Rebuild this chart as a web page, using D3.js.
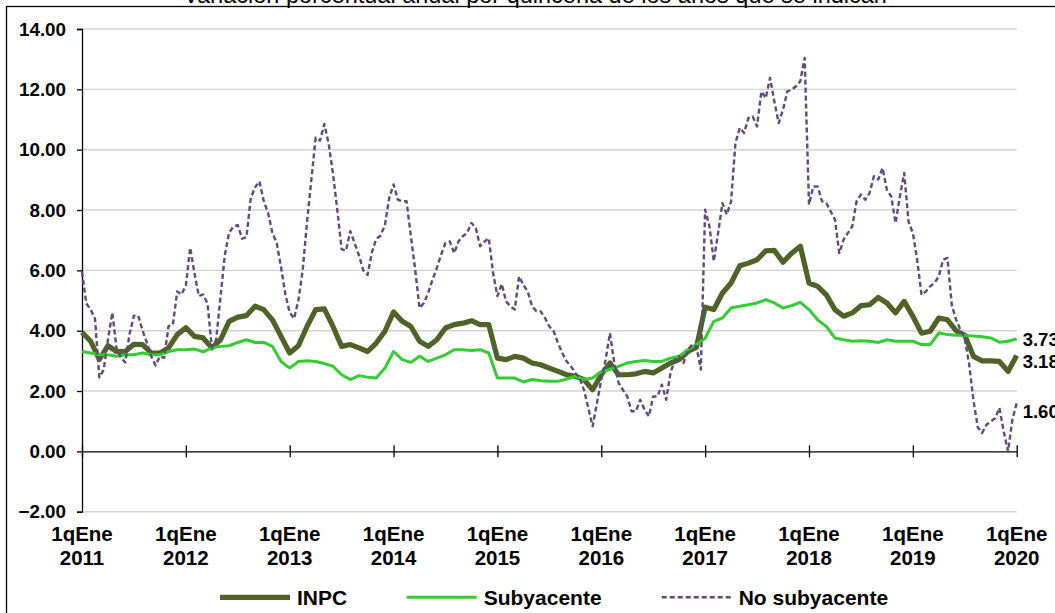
<!DOCTYPE html>
<html lang="es">
<head>
  <meta charset="utf-8">
  <title>INPC, Subyacente y No subyacente</title>
  <script src="https://cdn.jsdelivr.net/npm/d3@7"></script>
  <style>
    html, body { margin: 0; padding: 0; background: #fff; }
    svg { display: block; font-family: "Liberation Sans", Arial, sans-serif; }
  </style>
</head>
<body>
<div id="chart"></div>
<script>
  ////////////////////////////////////////////////// DATA
  var title = "Variación porcentual anual por quincena de los años que se indican";

  var years = [2011, 2012, 2013, 2014, 2015, 2016, 2017, 2018, 2019, 2020];
  var yTicks = [-2, 0, 2, 4, 6, 8, 10, 12, 14];

  // INPC, monthly reading (1a quincena of each month), Jan 2011 .. Jan 2020
  var inpc = [
    3.95, 3.65, 3.05, 3.50, 3.31, 3.31, 3.55, 3.54, 3.26, 3.26, 3.43, 3.87,
    4.10, 3.81, 3.76, 3.43, 3.70, 4.31, 4.45, 4.50, 4.81, 4.70, 4.36, 3.81,
    3.26, 3.50, 4.14, 4.70, 4.72, 4.14, 3.48, 3.54, 3.43, 3.31, 3.59, 3.98,
    4.62, 4.31, 4.14, 3.65, 3.48, 3.70, 4.09, 4.20, 4.25, 4.33, 4.20, 4.20,
    3.09, 3.04, 3.15, 3.09, 2.93, 2.87, 2.76, 2.65, 2.54, 2.49, 2.38, 2.04,
    2.54, 2.93, 2.54, 2.54, 2.57, 2.65, 2.60, 2.76, 2.93, 3.04, 3.31, 3.45,
    4.78, 4.70, 5.25, 5.58, 6.15, 6.24, 6.35, 6.65, 6.66, 6.27, 6.57, 6.80,
    5.58, 5.47, 5.19, 4.70, 4.48, 4.59, 4.83, 4.86, 5.10, 4.92, 4.59, 4.97,
    4.48, 3.92, 3.98, 4.42, 4.36, 4.00, 3.85, 3.15, 3.00, 3.00, 2.98, 2.65,
    3.18
  ];

  // Subyacente, monthly reading
  var subyacente = [
    3.31, 3.26, 3.20, 3.20, 3.15, 3.20, 3.20, 3.26, 3.20, 3.20, 3.31, 3.37,
    3.37, 3.39, 3.30, 3.43, 3.48, 3.50, 3.61, 3.70, 3.61, 3.61, 3.48, 2.98,
    2.76, 2.98, 3.00, 2.98, 2.91, 2.82, 2.54, 2.38, 2.51, 2.46, 2.43, 2.76,
    3.31, 3.04, 2.95, 3.15, 2.98, 3.09, 3.20, 3.37, 3.37, 3.34, 3.37, 3.26,
    2.43, 2.43, 2.43, 2.30, 2.38, 2.34, 2.32, 2.32, 2.40, 2.49, 2.38, 2.43,
    2.65, 2.71, 2.82, 2.93, 2.98, 3.01, 2.98, 2.98, 3.09, 3.15, 3.37, 3.54,
    3.75, 4.31, 4.42, 4.75, 4.81, 4.86, 4.92, 5.03, 4.92, 4.75, 4.83, 4.94,
    4.70, 4.36, 4.14, 3.76, 3.70, 3.65, 3.67, 3.65, 3.61, 3.70, 3.65, 3.65,
    3.65, 3.54, 3.54, 3.92, 3.87, 3.85, 3.85, 3.82, 3.80, 3.76, 3.62, 3.65,
    3.73
  ];

  // No subyacente, every quincena, 1qEne 2011 .. 1qEne 2020
  var noSubyacente = [
    5.95, 4.90, 4.70, 4.40, 2.45, 2.70, 3.70, 4.60, 3.40, 3.10,
    2.95, 3.90, 4.50, 4.50, 4.00, 3.60, 3.15, 2.85, 3.15, 3.10,
    4.15, 4.20, 5.30, 5.20, 5.50, 6.75, 5.90, 5.15, 5.20, 4.90,
    3.45, 3.70, 5.10, 6.50, 7.25, 7.45, 7.50, 7.05, 7.10, 8.40,
    8.75, 8.95, 8.30, 7.90, 7.25, 6.90, 6.10, 5.20, 4.60, 4.40,
    5.00, 6.00, 7.60, 9.00, 10.40, 10.30, 10.85, 10.20, 9.20, 8.00,
    6.70, 6.65, 7.30, 6.90, 6.50, 6.00, 5.85, 6.60, 7.05, 7.15,
    7.50, 8.40, 8.85, 8.34, 8.29, 8.29, 7.13, 6.02, 4.75, 4.92,
    5.25, 5.69, 6.08, 6.52, 6.91, 6.96, 6.57, 6.96, 7.13, 7.24,
    7.57, 7.40, 6.80, 6.95, 7.07, 5.91, 5.15, 5.55, 4.97, 4.81,
    4.70, 5.80, 5.52, 5.30, 4.81, 4.65, 4.64, 4.42, 4.14, 3.98,
    3.59, 3.26, 2.98, 2.82, 2.60, 2.43, 2.04, 1.44, 0.83, 1.60,
    2.38, 3.04, 3.92, 2.93, 2.27, 2.04, 1.82, 1.33, 1.33, 1.71,
    1.38, 1.16, 1.82, 1.82, 2.21, 1.71, 2.60, 3.04, 3.15, 2.93,
    3.37, 3.54, 3.48, 2.71, 8.01, 7.46, 6.30, 7.24, 8.23, 7.85,
    8.29, 10.22, 10.72, 10.55, 11.05, 11.10, 10.77, 11.93, 11.71, 12.38,
    11.60, 10.88, 11.33, 11.93, 11.99, 12.10, 12.27, 13.04, 8.18, 8.78,
    8.78, 8.29, 8.23, 7.96, 7.68, 6.57, 7.02, 7.24, 7.46, 8.29,
    8.51, 8.34, 8.56, 9.12, 9.01, 9.39, 8.67, 8.45, 7.57, 8.45,
    9.23, 7.62, 7.24, 6.35, 5.19, 5.30, 5.47, 5.58, 5.80, 6.35,
    6.41, 4.85, 4.36, 4.03, 3.75, 2.90, 1.70, 0.80, 0.61, 0.88,
    0.99, 1.10, 1.44, 0.66, 0.00, 1.05, 1.60
  ];

  ////////////////////////////////////////////////// SETUP
  var svgWidth = 1055, svgHeight = 613;
  var plotLeft = 82, plotRight = 1016.7, plotTop = 29, plotBottom = 511.7;
  var font = "'Liberation Sans', Arial, sans-serif";

  var series = [
    { name: "INPC", values: inpc, perYear: 12, color: "#4f6228", width: 5.2, dash: null, nudge: 6 },
    { name: "Subyacente", values: subyacente, perYear: 12, color: "#33cc33", width: 3, dash: null, nudge: 1 },
    { name: "No subyacente", values: noSubyacente, perYear: 24, color: "#604a7b", width: 2.4, dash: "5,3", nudge: 8 }
  ];

  var svg = d3.select("#chart").append("svg")
      .attr("width", svgWidth)
      .attr("height", svgHeight);

  svg.append("rect").attr("width", svgWidth).attr("height", svgHeight).attr("fill", "#fff");

  // x in years since 1qEne 2011
  var x = d3.scaleLinear().domain([years[0], years[years.length - 1]]).range([plotLeft, plotRight]);
  var y = d3.scaleLinear().domain([-2, 14]).range([plotBottom, plotTop]);

  // title (mostly above the visible area)
  svg.append("text")
      .attr("x", 535)
      .attr("y", 2.5)
      .attr("text-anchor", "middle")
      .attr("font-size", 23.5)
      .attr("fill", "#000")
      .text(title);

  // outer frame
  svg.append("rect")
      .attr("x", 6.5).attr("y", 6.5)
      .attr("width", 1200).attr("height", 800)
      .attr("fill", "none")
      .attr("stroke", "#000")
      .attr("stroke-width", 1.3);

  // gridlines
  svg.append("g").selectAll("line")
      .data(yTicks.filter(function(d){ return d !== 0; }))
      .join("line")
      .attr("x1", plotLeft).attr("x2", plotRight)
      .attr("y1", function(d){ return y(d); })
      .attr("y2", function(d){ return y(d); })
      .attr("stroke", "#d3d3d3")
      .attr("stroke-width", 1.4);

  // y axis
  var yAxis = svg.append("g")
      .attr("transform", "translate(" + plotLeft + ",0)")
      .call(d3.axisLeft(y).tickValues(yTicks).tickFormat(d3.format(".2f")).tickSize(5).tickPadding(11));
  yAxis.select(".domain").attr("stroke", "#000").attr("stroke-width", 1.3);
  yAxis.selectAll(".tick line").attr("stroke", "#000").attr("stroke-width", 1.3);
  yAxis.selectAll(".tick text")
      .attr("font-family", font)
      .attr("font-size", 18.8)
      .attr("font-weight", "bold")
      .attr("fill", "#000");

  // x axis on the zero line
  var xAxis = svg.append("g")
      .attr("transform", "translate(0," + y(0) + ")")
      .call(d3.axisBottom(x).tickValues(years).tickSize(0).tickFormat(""));
  xAxis.select(".domain").attr("stroke", "#000").attr("stroke-width", 1.3);
  xAxis.selectAll(".tick line")
      .attr("y1", -6).attr("y2", 6)
      .attr("stroke", "#000").attr("stroke-width", 1.3);

  // x tick labels below the plot
  var xl = svg.append("g").selectAll("text")
      .data(years)
      .join("text")
      .attr("text-anchor", "middle")
      .attr("font-size", 20.5)
      .attr("font-weight", "bold")
      .attr("fill", "#000")
      .attr("transform", function(d){ return "translate(" + x(d) + ",540.7)"; });
  xl.append("tspan").attr("x", 0).attr("y", 0).text("1qEne");
  xl.append("tspan").attr("x", 0).attr("y", 24.5).text(function(d){ return d; });

  // series lines
  var line = d3.line()
      .x(function(d){ return x(d[0]); })
      .y(function(d){ return y(d[1]); });

  series.forEach(function(s){
    var pts = s.values.map(function(v, i){ return [years[0] + i / s.perYear, v]; });
    s.pts = pts;
    svg.append("path")
        .datum(pts)
        .attr("fill", "none")
        .attr("stroke", s.color)
        .attr("stroke-width", s.width)
        .attr("stroke-linejoin", "round")
        .attr("stroke-dasharray", s.dash)
        .attr("d", line);
  });

  // end labels
  series.forEach(function(s){
    var last = s.pts[s.pts.length - 1];
    svg.append("text")
        .attr("x", x(last[0]) + 6)
        .attr("y", y(last[1]) + s.nudge)
        .attr("dy", "0.35em")
        .attr("font-size", 18.5)
        .attr("font-weight", "bold")
        .attr("fill", "#000")
        .text(last[1].toFixed(2));
  });

  // legend
  var legendX = [220, 406.7, 661.7];
  var legendY = 597.3;
  var lg = svg.append("g").selectAll("g")
      .data(series)
      .join("g")
      .attr("transform", function(d, i){ return "translate(" + legendX[i] + "," + legendY + ")"; });
  lg.append("line")
      .attr("x1", 0).attr("x2", 70)
      .attr("stroke", function(d){ return d.color; })
      .attr("stroke-width", function(d){ return d.width; })
      .attr("stroke-dasharray", function(d){ return d.dash; });
  lg.append("text")
      .attr("x", 77)
      .attr("dy", "0.36em")
      .attr("font-size", 21)
      .attr("font-weight", "bold")
      .attr("fill", "#000")
      .text(function(d){ return d.name; });
</script>
</body>
</html>
